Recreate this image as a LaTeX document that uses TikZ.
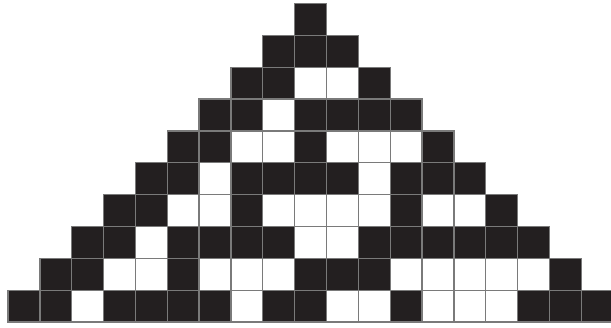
\documentclass[tikz,border=0pt]{standalone}
\definecolor{cablack}{HTML}{231F20}
\definecolor{cagrid}{HTML}{7A7A7A}
\tikzset{
  cellbox/.style={draw=cagrid, line width=1.3pt},
  c0/.style={fill=white},
  c1/.style={fill=cablack}
}
\newcommand\carow[2]{%
  \foreach \v [count=\k from 0] in {#2} {%
    \draw[cellbox,c\v] ({8+(\k-#1+9)*31.85},{-(3.5+#1*31.85)}) rectangle ++(31.85,-31.85);
  }%
}
\begin{document}
\begin{tikzpicture}[x=1pt,y=1pt]
\useasboundingbox[fill=white] (0,0) rectangle (611,-327);
\carow{0}{1}
\carow{1}{1,1,1}
\carow{2}{1,1,0,0,1}
\carow{3}{1,1,0,1,1,1,1}
\carow{4}{1,1,0,0,1,0,0,0,1}
\carow{5}{1,1,0,1,1,1,1,0,1,1,1}
\carow{6}{1,1,0,0,1,0,0,0,0,1,0,0,1}
\carow{7}{1,1,0,1,1,1,1,0,0,1,1,1,1,1,1}
\carow{8}{1,1,0,0,1,0,0,0,1,1,1,0,0,0,0,0,1}
\carow{9}{1,1,0,1,1,1,1,0,1,1,0,0,1,0,0,0,1,1,1}
\end{tikzpicture}
\end{document}
